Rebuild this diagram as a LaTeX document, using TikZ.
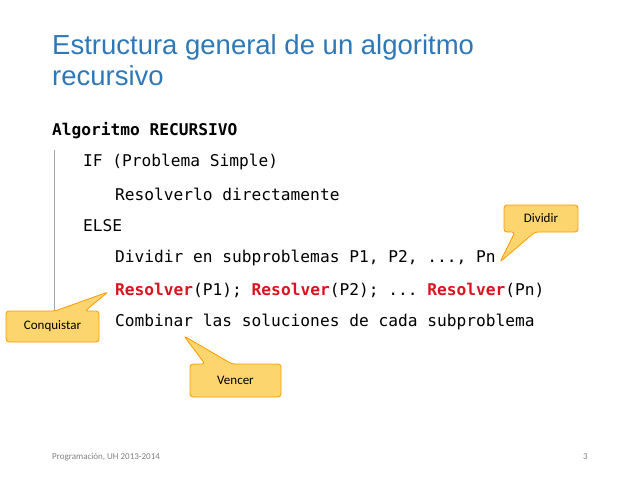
\documentclass[tikz,border=0pt]{standalone}
\usepackage{fontspec}
\setmainfont{Carlito}
\newfontfamily\titlefont{Liberation Sans}
\setmonofont{DejaVu Sans Mono}
\begin{document}
\begin{tikzpicture}[x=1pt,y=-1pt,
  code/.style={anchor=west,inner sep=0pt,font=\ttfamily\fontsize{16.2}{19}\selectfont},
  callout/.style={fill=yellow!45!orange!55!white,draw=orange!80!yellow,line width=0.8pt,rounded corners=3pt},
  ctext/.style={font=\fontsize{13}{15}\selectfont,inner sep=0pt}]
\useasboundingbox (0,0) rectangle (638,479);
\definecolor{tblue}{HTML}{2F78B7}
\definecolor{cred}{HTML}{D9141E}
\node[anchor=west,inner sep=0pt,text=tblue,font=\titlefont\fontsize{27.5}{31}\selectfont,align=left] (title) at (52,60) {Estructura general de un algoritmo\\recursivo};
\node[code,font=\ttfamily\bfseries\fontsize{16.2}{19}\selectfont] (l1) at (52,131) {Algoritmo RECURSIVO};
\node[code] (l2) at (83,162) {IF (Problema Simple)};
\node[code] (l3) at (115,194) {Resolverlo directamente};
\node[code] (l4) at (83,226) {ELSE};
\node[code] (l5) at (115,258) {Dividir en subproblemas P1, P2, ..., Pn};
\node[code] (l6) at (115,290) {\textcolor{cred}{\bfseries Resolver}(P1); \textcolor{cred}{\bfseries Resolver}(P2); ... \textcolor{cred}{\bfseries Resolver}(Pn)};
\node[code] (l7) at (115,322) {Combinar las soluciones de cada subproblema};
\coordinate (vt) at (54,150); \coordinate (vb) at (54,318);
\draw[gray!70,line width=0.8pt] (vt) -- (vb);
% callouts
\draw[callout] (504,205) -- (578,205) -- (578,232) -- (535,232) -- (500,262) -- (515,232) -- (504,232) -- cycle;
\node[ctext] (dividir) at (541,218.5) {Dividir};
\draw[callout] (6,311) -- (55,311) -- (108,292) -- (85,311) -- (99,311) -- (99,342) -- (6,342) -- cycle;
\node[ctext] (conq) at (52.5,326.5) {Conquistar};
\draw[callout] (190,364) -- (205,364) -- (184,336) -- (232,364) -- (281,364) -- (281,397) -- (190,397) -- cycle;
\node[ctext] (vencer) at (235.5,380.5) {Vencer};
\node[anchor=west,inner sep=0pt,text=gray,font=\fontsize{9}{11}\selectfont] (foot) at (52,457) {Programación, UH 2013-2014};
\node[anchor=east,inner sep=0pt,text=gray,font=\fontsize{9}{11}\selectfont] (page) at (588,457) {3};
\end{tikzpicture}
\end{document}
